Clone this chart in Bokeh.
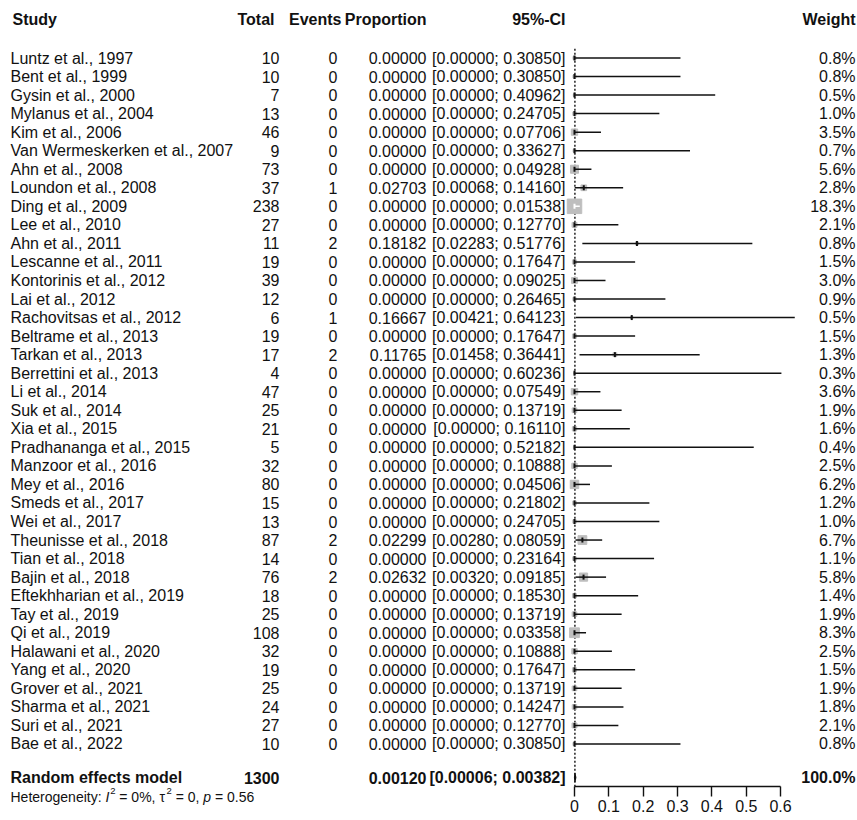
import math
from bokeh.plotting import figure
from bokeh.models import Range1d, LinearAxis, FixedTicker, ColumnDataSource
from bokeh.core.properties import value
from bokeh.embed import file_html
from bokeh.resources import INLINE

# ---------------- data ----------------
studies = [
    "Luntz et al., 1997", "Bent  et al., 1999", "Gysin et al., 2000", "Mylanus et al., 2004",
    "Kim et al., 2006", "Van Wermeskerken et al., 2007", "Ahn et al., 2008", "Loundon et al., 2008",
    "Ding et al., 2009", "Lee et al., 2010", "Ahn et al., 2011", "Lescanne et al., 2011",
    "Kontorinis et al., 2012", "Lai et al., 2012", "Rachovitsas et al., 2012", "Beltrame et al., 2013",
    "Tarkan et al., 2013", "Berrettini et al., 2013", "Li et al., 2014", "Suk  et al., 2014",
    "Xia et al., 2015", "Pradhananga et al., 2015", "Manzoor et al., 2016", "Mey et al., 2016",
    "Smeds et al., 2017", "Wei et al., 2017", "Theunisse et al., 2018", "Tian et al., 2018",
    "Bajin  et al., 2018", "Eftekhharian et al., 2019", "Tay  et al., 2019", "Qi  et al., 2019",
    "Halawani et al., 2020", "Yang et al., 2020", "Grover et al., 2021", "Sharma et al., 2021",
    "Suri  et al., 2021", "Bae  et al., 2022",
]
totals = [10, 10, 7, 13, 46, 9, 73, 37, 238, 27, 11, 19, 39, 12, 6, 19, 17, 4, 47, 25,
          21, 5, 32, 80, 15, 13, 87, 14, 76, 18, 25, 108, 32, 19, 25, 24, 27, 10]
events = [0, 0, 0, 0, 0, 0, 0, 1, 0, 0, 2, 0, 0, 0, 1, 0, 2, 0, 0, 0,
          0, 0, 0, 0, 0, 0, 2, 0, 2, 0, 0, 0, 0, 0, 0, 0, 0, 0]
proportions = [0, 0, 0, 0, 0, 0, 0, 0.02703, 0, 0, 0.18182, 0, 0, 0, 0.16667, 0, 0.11765, 0, 0, 0,
               0, 0, 0, 0, 0, 0, 0.02299, 0, 0.02632, 0, 0, 0, 0, 0, 0, 0, 0, 0]
ci_lower = [0, 0, 0, 0, 0, 0, 0, 0.00068, 0, 0, 0.02283, 0, 0, 0, 0.00421, 0, 0.01458, 0, 0, 0,
            0, 0, 0, 0, 0, 0, 0.00280, 0, 0.00320, 0, 0, 0, 0, 0, 0, 0, 0, 0]
ci_upper = [0.30850, 0.30850, 0.40962, 0.24705, 0.07706, 0.33627, 0.04928, 0.14160, 0.01538, 0.12770,
            0.51776, 0.17647, 0.09025, 0.26465, 0.64123, 0.17647, 0.36441, 0.60236, 0.07549, 0.13719,
            0.16110, 0.52182, 0.10888, 0.04506, 0.21802, 0.24705, 0.08059, 0.23164, 0.09185, 0.18530,
            0.13719, 0.03358, 0.10888, 0.17647, 0.13719, 0.14247, 0.12770, 0.30850]
weights = [0.8, 0.8, 0.5, 1.0, 3.5, 0.7, 5.6, 2.8, 18.3, 2.1, 0.8, 1.5, 3.0, 0.9, 0.5, 1.5, 1.3, 0.3,
           3.6, 1.9, 1.6, 0.4, 2.5, 6.2, 1.2, 1.0, 6.7, 1.1, 5.8, 1.4, 1.9, 8.3, 2.5, 1.5, 1.9, 1.8,
           2.1, 0.8]
pooled_label = "Random effects model"
pooled_total = 1300
pooled_est = 0.00120
pooled_lower = 0.00006
pooled_upper = 0.00382
pooled_weight = 100.0
# heterogeneity line pieces: (text, style, superscript?, space after?)
het_pieces = [("Heterogeneity:", "normal", False, True), ("I", "italic", False, False),
              ("2", "normal", True, True), ("= 0%, τ", "normal", False, False),
              ("2", "normal", True, True), ("= 0,", "normal", False, True),
              ("p", "italic", False, True), ("= 0.56", "normal", False, False)]
headers = ["Study", "Total", "Events", "Proportion", "95%-CI", "Weight"]
x_ticks = [0, 0.1, 0.2, 0.3, 0.4, 0.5, 0.6]
x_tick_labels = ["0", "0.1", "0.2", "0.3", "0.4", "0.5", "0.6"]

# ---------------- layout ----------------
W, H = 857, 820
PX0 = 574.0      # pixel of proportion 0
SCALE = 343.5    # pixels per unit proportion
ROW0 = 57.5      # pixel of first study row
ROWH = 18.54     # row height


def dx(px):
    return (px - PX0) / SCALE


def dy(py):
    return (py - ROW0) / ROWH


n = len(studies)
rows = list(range(n))
row_header = dy(19)
row_pooled = dy(777)
row_het = dy(796)
row_axis = dy(786)

FONT = value("Liberation Sans")
FS = value("16px")
TXT = "#111111"

p = figure(width=W, height=H, output_backend="svg", toolbar_location=None,
           x_range=Range1d(dx(0), dx(W)),
           y_range=Range1d(dy(H), dy(0)),
           x_axis_location=None, y_axis_location=None,
           min_border=0, outline_line_color=None)
p.xgrid.visible = False
p.ygrid.visible = False

# reference (dotted) line at pooled estimate
p.segment(x0=[pooled_est], y0=[-0.5], x1=[pooled_est], y1=[row_axis],
          line_color="#111111", line_width=1.4, line_dash="2 2")

# squares
sizes = [14.5 * math.sqrt(w / 18.3) for w in weights]
inside = []
for e, lo, hi, s in zip(proportions, ci_lower, ci_upper, sizes):
    half = s / 2.0 / SCALE
    inside.append(lo >= e - half and hi <= e + half)
line_cols = ["white" if i else "#111111" for i in inside]

src = ColumnDataSource(dict(
    y=rows, study=studies, total=[str(t) for t in totals], events=[str(e) for e in events],
    prop=["%.5f" % v for v in proportions],
    ci=["[%.5f; %.5f]" % (a, b) for a, b in zip(ci_lower, ci_upper)],
    weight=["%.1f%%" % w for w in weights],
    est=proportions, lo=ci_lower, hi=ci_upper, size=sizes, lc=line_cols,
))

p.scatter(x="est", y="y", size="size", marker="square", source=src,
          fill_color="#bebebe", line_color="#bebebe")
p.segment(x0="lo", y0="y", x1="hi", y1="y", line_color="lc", line_width=1.5, source=src)
p.scatter(x="est", y="y", size=5, marker="dash", angle=math.pi / 2, source=src,
          line_color="lc", line_width=2)

# text columns
cols = [("study", 10, "left"), ("total", 279, "right"), ("events", 337, "right"),
        ("prop", 426, "right"), ("ci", 565, "right"), ("weight", 855, "right")]
for field, px, al in cols:
    p.text(x=dx(px), y="y", text=field, source=src, text_font=FONT, text_font_size=FS,
           text_color=TXT, text_baseline="middle", text_align=al)

# headers
hx = [dx(12), dx(274), dx(341), dx(426), dx(565), dx(855)]
ha = ["left", "right", "right", "right", "right", "right"]
for t, x, a in zip(headers, hx, ha):
    p.text(x=[x], y=[row_header], text=[t], text_font=FONT, text_font_size=FS,
           text_font_style="bold", text_color=TXT, text_baseline="middle", text_align=a)

# pooled row
pooled_vals = [pooled_label, str(pooled_total), "%.5f" % pooled_est,
               "[%.5f; %.5f]" % (pooled_lower, pooled_upper), "%.1f%%" % pooled_weight]
px_ = [dx(10), dx(279), dx(426), dx(565), dx(855)]
pa = ["left", "right", "right", "right", "right"]
for t, x, a in zip(pooled_vals, px_, pa):
    p.text(x=[x], y=[row_pooled], text=[t], text_font=FONT, text_font_size=FS,
           text_font_style="bold", text_color=TXT, text_baseline="middle", text_align=a)

dh = 0.24
p.patch(x=[pooled_lower, pooled_est, pooled_upper, pooled_est],
        y=[row_pooled, row_pooled - dh, row_pooled, row_pooled + dh],
        fill_color="#444444", line_color="#111111", line_width=1.2)

# heterogeneity line, composed of pieces (approximate Arial advance widths)
ADV = {"H": .722, "e": .556, "t": .278, "r": .333, "o": .556, "g": .556, "n": .556, "i": .222,
       "y": .5, ":": .278, " ": .278, "I": .278, "=": .584, "0": .556, "%": .889, ",": .278,
       "τ": .45, "p": .556, ".": .278, "5": .556, "6": .556, "2": .556}
HFS = 14.0
SUPFS = 9.5
cur = 10.0
for txt, style, sup, gap in het_pieces:
    fs = SUPFS if sup else HFS
    if sup:
        cur += 0.8
    p.text(x=[dx(cur)], y=[row_het - (0.28 if sup else 0.0)], text=[txt], text_font=FONT,
           text_font_size=value("%.1fpx" % fs), text_font_style=style, text_color=TXT,
           text_baseline="middle", text_align="left")
    cur += sum(ADV.get(c, 0.556) for c in txt) * fs
    if gap:
        cur += 0.278 * HFS

# axis
ax = LinearAxis(fixed_location=row_axis, bounds=(0, 0.6),
                ticker=FixedTicker(ticks=x_ticks),
                major_label_overrides={t: l for t, l in zip(x_ticks, x_tick_labels)},
                major_tick_in=0, major_tick_out=10, minor_tick_in=0, minor_tick_out=0,
                axis_line_color="#111111", axis_line_width=1.4,
                major_tick_line_color="#111111", major_tick_line_width=1.4,
                major_label_text_font="Liberation Sans", major_label_text_font_size="16px",
                major_label_text_color=TXT, major_label_standoff=3)
p.add_layout(ax, "below")

open("out.html", "w").write(file_html(p, INLINE))
